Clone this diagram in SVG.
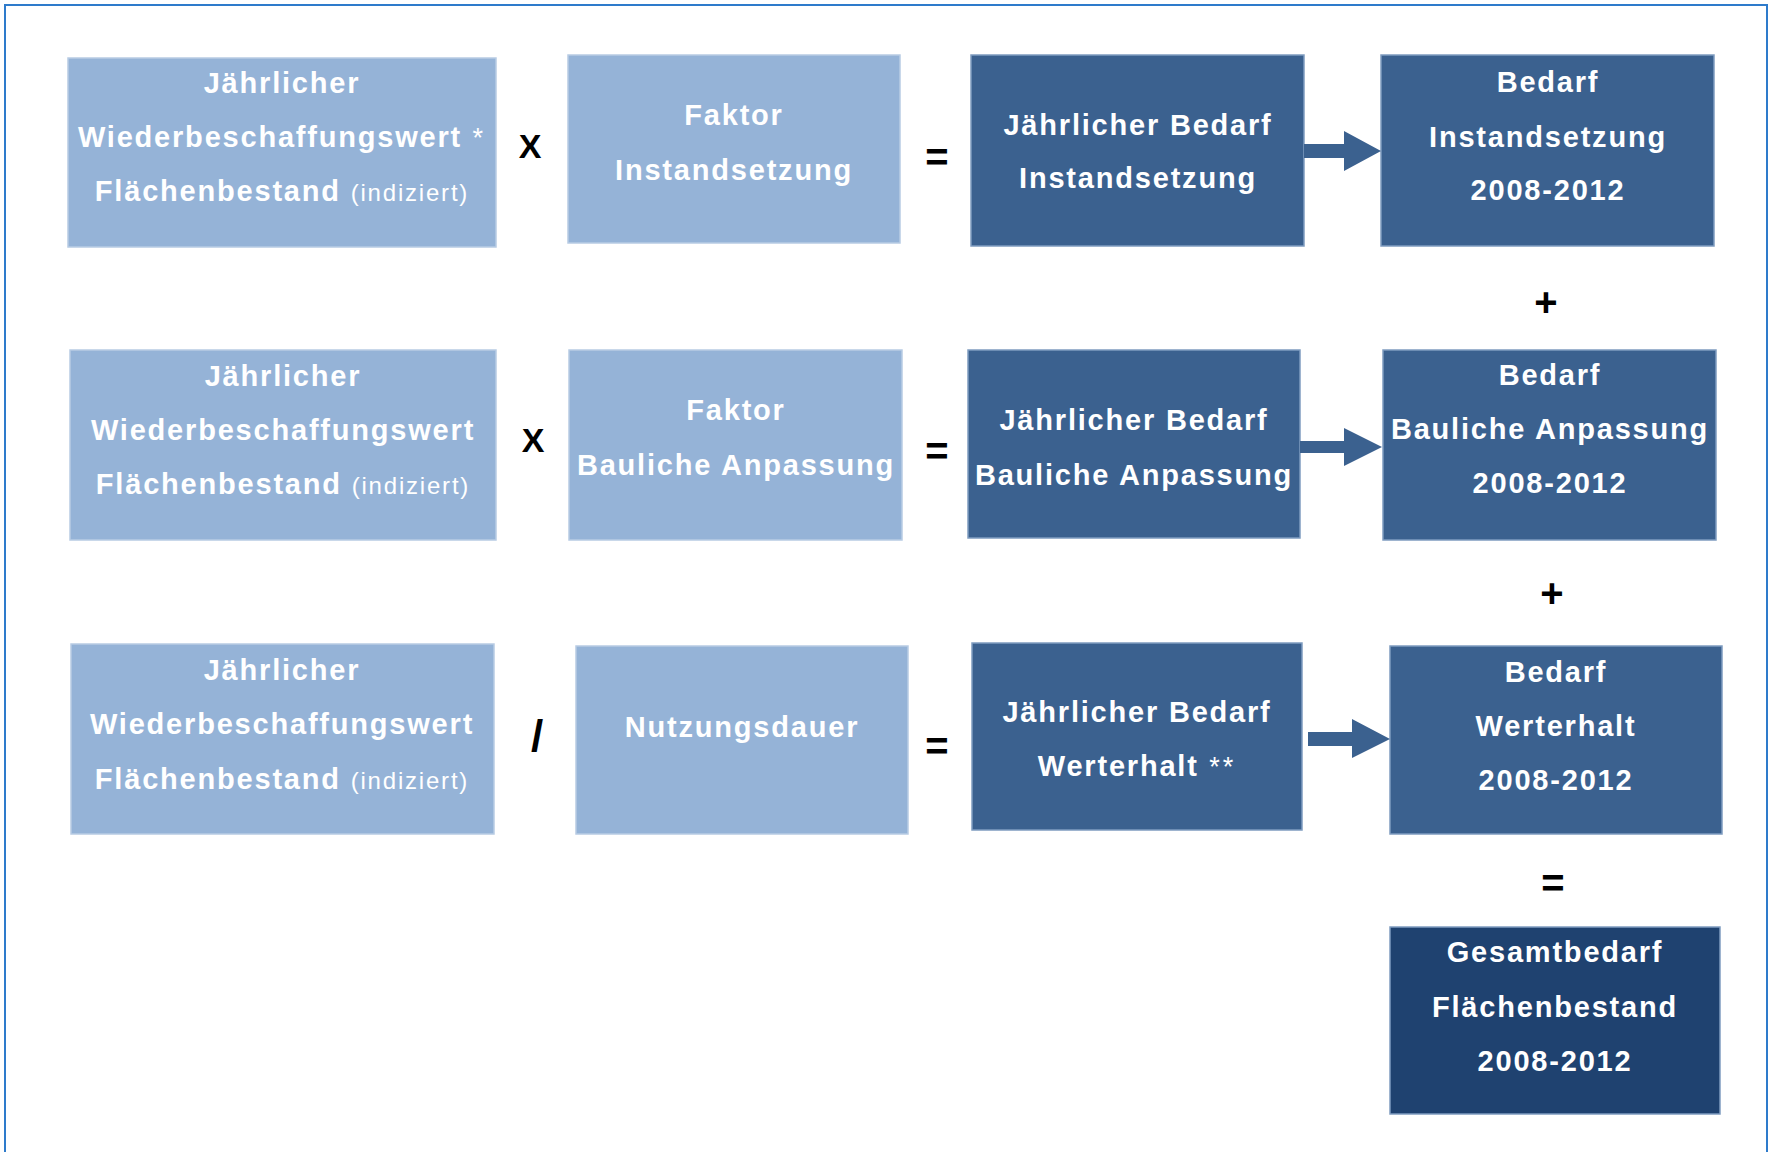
<svg xmlns="http://www.w3.org/2000/svg" width="1775" height="1152" viewBox="0 0 1775 1152">
<style>
  .light { fill: #95B3D7; stroke: #B8CCE4; stroke-width: 1.5; }
  .dark { fill: #3B618F; stroke: #7F9CC0; stroke-width: 1.5; }
  .darkest { fill: #1F4270; stroke: #7F9CC0; stroke-width: 1.5; }
  .t { font-family: "Liberation Sans", Arial, sans-serif; font-weight: bold; font-size: 29px; fill: #FFFFFF; letter-spacing: 1.8px; text-anchor: middle; }
  .small { font-weight: normal; font-size: 24px; letter-spacing: 1.8px; }
  .ast { font-weight: normal; font-size: 27px; letter-spacing: 3px; }
  .op { font-family: "Liberation Sans", Arial, sans-serif; font-weight: bold; fill: #000000; text-anchor: middle; }
  .arrow { fill: #3B618F; }
</style>
<rect x="0" y="0" width="1775" height="1152" fill="#FFFFFF"/>
<rect x="5" y="5" width="1762" height="1170" fill="none" stroke="#2E7BCB" stroke-width="2"/>

<!-- Row 1 -->
<g id="node-a1">
  <rect class="light" x="68" y="58" width="428" height="189"/>
  <text class="t" x="282" y="93">Jährlicher</text>
  <text class="t" x="282" y="147">Wiederbeschaffungswert<tspan class="ast"> *</tspan></text>
  <text class="t" x="282" y="201">Flächenbestand <tspan class="small">(indiziert)</tspan></text>
</g>
<g id="node-b1">
  <rect class="light" x="568" y="55" width="332" height="188"/>
  <text class="t" x="734" y="125">Faktor</text>
  <text class="t" x="734" y="180">Instandsetzung</text>
</g>
<g id="node-c1">
  <rect class="dark" x="971" y="55" width="333" height="191"/>
  <text class="t" x="1138" y="135">Jährlicher Bedarf</text>
  <text class="t" x="1138" y="188">Instandsetzung</text>
</g>
<g id="node-d1">
  <rect class="dark" x="1381" y="55" width="333" height="191"/>
  <text class="t" x="1548" y="92">Bedarf</text>
  <text class="t" x="1548" y="147">Instandsetzung</text>
  <text class="t" x="1548" y="200">2008-2012</text>
</g>

<!-- Row 2 -->
<g id="node-a2">
  <rect class="light" x="70" y="350" width="426" height="190"/>
  <text class="t" x="283" y="386">Jährlicher</text>
  <text class="t" x="283" y="440">Wiederbeschaffungswert</text>
  <text class="t" x="283" y="494">Flächenbestand <tspan class="small">(indiziert)</tspan></text>
</g>
<g id="node-b2">
  <rect class="light" x="569" y="350" width="333" height="190"/>
  <text class="t" x="736" y="420">Faktor</text>
  <text class="t" x="736" y="475">Bauliche Anpassung</text>
</g>
<g id="node-c2">
  <rect class="dark" x="968" y="350" width="332" height="188"/>
  <text class="t" x="1134" y="430">Jährlicher Bedarf</text>
  <text class="t" x="1134" y="485">Bauliche Anpassung</text>
</g>
<g id="node-d2">
  <rect class="dark" x="1383" y="350" width="333" height="190"/>
  <text class="t" x="1550" y="385">Bedarf</text>
  <text class="t" x="1550" y="439">Bauliche Anpassung</text>
  <text class="t" x="1550" y="493">2008-2012</text>
</g>

<!-- Row 3 -->
<g id="node-a3">
  <rect class="light" x="71" y="644" width="423" height="190"/>
  <text class="t" x="282" y="680">Jährlicher</text>
  <text class="t" x="282" y="734">Wiederbeschaffungswert</text>
  <text class="t" x="282" y="789">Flächenbestand <tspan class="small">(indiziert)</tspan></text>
</g>
<g id="node-b3">
  <rect class="light" x="576" y="646" width="332" height="188"/>
  <text class="t" x="742" y="737">Nutzungsdauer</text>
</g>
<g id="node-c3">
  <rect class="dark" x="972" y="643" width="330" height="187"/>
  <text class="t" x="1137" y="722">Jährlicher Bedarf</text>
  <text class="t" x="1137" y="776">Werterhalt<tspan class="ast"> **</tspan></text>
</g>
<g id="node-d3">
  <rect class="dark" x="1390" y="646" width="332" height="188"/>
  <text class="t" x="1556" y="682">Bedarf</text>
  <text class="t" x="1556" y="736">Werterhalt</text>
  <text class="t" x="1556" y="790">2008-2012</text>
</g>

<!-- Total -->
<g id="node-e">
  <rect class="darkest" x="1390" y="927" width="330" height="187"/>
  <text class="t" x="1555" y="962">Gesamtbedarf</text>
  <text class="t" x="1555" y="1017">Flächenbestand</text>
  <text class="t" x="1555" y="1071">2008-2012</text>
</g>

<!-- Operators -->
<g id="operators">
  <text class="op" x="530" y="158" font-size="34">X</text>
  <text class="op" x="533" y="452" font-size="34">X</text>
  <text class="op" x="537" y="751" font-size="44">/</text>
  <text class="op" x="937" y="171" font-size="40">=</text>
  <text class="op" x="937" y="465" font-size="40">=</text>
  <text class="op" x="937" y="760" font-size="40">=</text>
  <text class="op" x="1546" y="316" font-size="40">+</text>
  <text class="op" x="1552" y="607" font-size="40">+</text>
  <text class="op" x="1553" y="897" font-size="40">=</text>
</g>

<!-- Connectors -->
<g id="connectors">
  <polygon class="arrow" points="1304,144 1344,144 1344,131 1381,151 1344,171 1344,158 1304,158"/>
  <polygon class="arrow" points="1300,441 1344,441 1344,428 1382,447 1344,466 1344,453 1300,453"/>
  <polygon class="arrow" points="1308,732 1352,732 1352,719 1390,739 1352,758 1352,746 1308,746"/>
</g>
</svg>
